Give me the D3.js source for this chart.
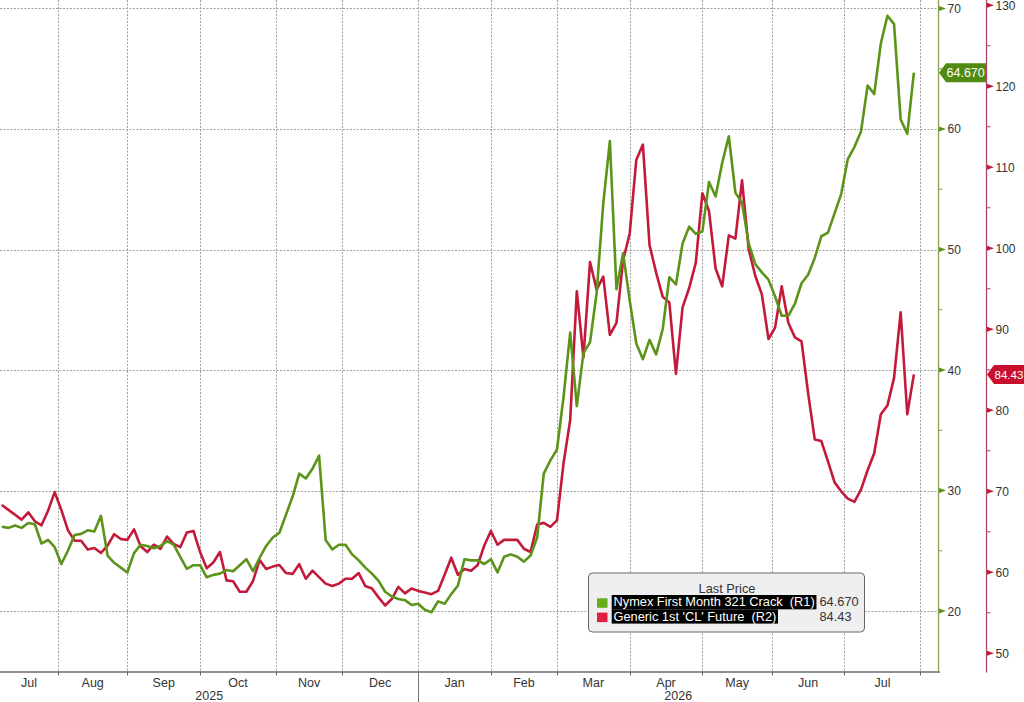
<!DOCTYPE html>
<html>
<head>
<meta charset="utf-8">
<script src="https://cdn.jsdelivr.net/npm/d3@7/dist/d3.min.js"></script>
<style>
    html, body { margin: 0; padding: 0; background: #fff; }
    svg { display: block; font-family: "Liberation Sans", Arial, sans-serif; }
</style>
</head>
<body>
<div id="chart"></div>
<script>
// trading-day axis: weekdays from firstDay, series sampled every 2nd session
var firstDay = '2025-07-08';
var lastDay = '2026-08-31';
var sampleStart = 1;
var sampleStep = 2;

// Nymex First Month 321 Crack (R1)
var crack = [
    27.0, 26.9, 27.1, 26.9, 27.3, 27.2, 25.6, 25.9, 25.3, 23.9,
    25.0, 26.3, 26.4, 26.7, 26.6, 27.9, 24.6, 24.0, 23.6, 23.2,
    24.8, 25.5, 25.4, 25.2, 25.4, 25.8, 25.5, 24.5, 23.5, 23.8,
    23.8, 22.8, 23.0, 23.1, 23.4, 23.3, 23.8, 24.3, 23.3, 24.4,
    25.4, 26.1, 26.5, 28.0, 29.5, 31.4, 31.0, 31.8, 32.9, 25.9,
    25.1, 25.5, 25.5, 24.7, 24.2, 23.6, 23.1, 22.5, 21.6, 21.2,
    21.0, 20.9, 20.5, 20.6, 20.1, 19.9, 20.8, 20.6, 21.4, 22.1,
    24.3, 24.2, 24.2, 23.9, 24.3, 23.2, 24.5, 24.7, 24.5, 24.1,
    24.6, 26.1, 31.4, 32.5, 33.4, 37.8, 43.1, 37.0, 41.4, 42.3,
    46.4, 53.8, 59.0, 46.7, 49.7, 45.8, 42.2, 40.9, 42.5, 41.3,
    43.4, 47.7, 47.1, 50.5, 51.9, 51.3, 51.5, 55.6, 54.4, 57.2,
    59.4, 54.7, 53.9, 50.5, 48.8, 48.1, 47.5, 46.1, 44.5, 44.5,
    45.5, 47.2, 47.9, 49.3, 51.1, 51.4, 53.0, 54.6, 57.5, 58.5,
    59.8, 63.6, 62.9, 67.1, 69.4, 68.7, 60.8, 59.6, 64.67
];

// Generic 1st 'CL' Future (R2)
var wti = [
    68.3, 67.7, 67.1, 66.5, 67.4, 66.3, 65.8, 67.6, 69.9, 67.7,
    65.2, 63.9, 63.9, 62.8, 63.0, 62.4, 63.3, 64.7, 64.1, 64.0,
    65.3, 63.2, 62.5, 63.4, 62.9, 64.4, 63.5, 63.1, 64.9, 65.1,
    62.5, 60.5, 61.2, 62.5, 59.0, 58.9, 57.6, 57.6, 58.9, 61.5,
    60.4, 60.7, 60.9, 59.9, 59.8, 61.0, 59.2, 60.2, 59.4, 58.6,
    58.3, 58.6, 59.2, 59.2, 59.9, 58.3, 58.0, 56.9, 55.9, 56.7,
    58.2, 57.4, 58.0, 57.7, 57.5, 57.3, 57.7, 59.7, 61.8, 59.7,
    60.4, 60.2, 60.9, 63.3, 65.1, 63.4, 64.0, 64.0, 64.0, 62.9,
    62.5, 65.9, 66.1, 65.6, 66.4, 73.5, 78.8, 94.7, 86.5, 98.3,
    94.9, 96.5, 89.3, 90.8, 98.5, 101.8, 110.9, 112.8, 100.4, 97.0,
    94.0, 93.3, 84.5, 92.7, 95.1, 98.2, 106.8, 104.6, 97.5, 95.3,
    101.6, 101.2, 108.4, 99.9, 96.6, 94.3, 88.8, 90.2, 95.3, 90.8,
    89.0, 88.5, 82.1, 76.4, 76.2, 73.7, 71.1, 70.0, 69.1, 68.7,
    70.2, 72.6, 74.7, 79.5, 80.6, 84.0, 92.1, 79.5, 84.43
];

var crackTicks = [20, 30, 40, 50, 60, 70];
var crackMinor = [25, 35, 45, 55, 65];
var wtiTicks = [50, 60, 70, 80, 90, 100, 110, 120, 130];
var wtiMinor = [55, 65, 75, 85, 95, 105, 115, 125];
var monthNames = ['Jan', 'Feb', 'Mar', 'Apr', 'May', 'Jun', 'Jul', 'Aug', 'Sep', 'Oct', 'Nov', 'Dec'];
var seriesNames = ['Nymex First Month 321 Crack  (R1)', "Generic 1st 'CL' Future  (R2)"];
var lastLabels = ['64.670', '84.43'];
var legendTitle = 'Last Price';

var width = 1024, height = 702;
var plotRight = 938, plotBottom = 671.5;
var axis2X = 986;
var green = '#5b9419', red = '#c31a3b';
var greenAxis = '#8c9f55', redAxis = '#b04262';

var svg = d3.select('#chart').append('svg')
    .attr('width', width)
    .attr('height', height);

svg.append('rect').attr('width', width).attr('height', height).attr('fill', '#fff');

// calendar of weekdays
var parse = d3.timeParse('%Y-%m-%d');
var days = d3.timeDays(parse(firstDay), d3.timeDay.offset(parse(lastDay), 1))
    .filter(function(d) { return d.getDay() > 0 && d.getDay() < 6; });

var x = d3.scaleLinear().domain([0.45, 284.3]).range([0, plotRight]);
var yCrack = d3.scaleLinear().domain([14.98, 70.705]).range([plotBottom, 0]);
var yWti = d3.scaleLinear().domain([47.75, 130.65]).range([plotBottom, 0]);

// month boundaries
var monthStarts = [];
for (var i = 1; i < days.length; i++) {
    if (days[i].getMonth() !== days[i - 1].getMonth()) {
        monthStarts.push({ idx: i, date: days[i] });
    }
}

var defs = svg.append('defs');
defs.append('clipPath').attr('id', 'plot-clip')
    .append('rect').attr('x', 0).attr('y', 0).attr('width', plotRight).attr('height', plotBottom);

// gridlines
var grid = svg.append('g').attr('class', 'grid')
    .attr('stroke', '#a0a0a0')
    .attr('stroke-width', 1)
    .attr('stroke-dasharray', '2,1.5');

grid.selectAll('line.h').data(crackTicks).enter()
    .append('line')
    .attr('class', 'h')
    .attr('x1', 0)
    .attr('x2', plotRight)
    .attr('y1', function(d) { return Math.round(yCrack(d)) + 0.5; })
    .attr('y2', function(d) { return Math.round(yCrack(d)) + 0.5; });

var visibleStarts = monthStarts.filter(function(m) {
    return x(m.idx) > 0 && x(m.idx) < plotRight;
});

grid.selectAll('line.v').data(visibleStarts).enter()
    .append('line')
    .attr('class', 'v')
    .attr('x1', function(m) { return Math.round(x(m.idx)) + 0.5; })
    .attr('x2', function(m) { return Math.round(x(m.idx)) + 0.5; })
    .attr('y1', 0)
    .attr('y2', plotBottom);

// series lines
var crackPts = crack.map(function(v, k) { return [sampleStart + k * sampleStep, v]; });
var wtiPts = wti.map(function(v, k) { return [sampleStart + k * sampleStep, v]; });

var lines = svg.append('g').attr('clip-path', 'url(#plot-clip)');

lines.append('path')
    .datum(wtiPts)
    .attr('fill', 'none')
    .attr('stroke', red)
    .attr('stroke-width', 2.6)
    .attr('stroke-linejoin', 'round')
    .attr('d', d3.line()
        .x(function(p) { return x(p[0]); })
        .y(function(p) { return yWti(p[1]); }));

lines.append('path')
    .datum(crackPts)
    .attr('fill', 'none')
    .attr('stroke', green)
    .attr('stroke-width', 2.6)
    .attr('stroke-linejoin', 'round')
    .attr('d', d3.line()
        .x(function(p) { return x(p[0]); })
        .y(function(p) { return yCrack(p[1]); }));

// x axis
svg.append('line')
    .attr('x1', 0).attr('x2', plotRight + 2)
    .attr('y1', plotBottom + 0.5).attr('y2', plotBottom + 0.5)
    .attr('stroke', '#222').attr('stroke-width', 1.2);

svg.selectAll('line.mtick').data(visibleStarts).enter()
    .append('line')
    .attr('class', 'mtick')
    .attr('x1', function(m) { return Math.round(x(m.idx)) + 0.5; })
    .attr('x2', function(m) { return Math.round(x(m.idx)) + 0.5; })
    .attr('y1', plotBottom)
    .attr('y2', plotBottom + 4)
    .attr('stroke', '#666');

var spans = [{ start: 0, date: days[0] }].concat(monthStarts.map(function(m) {
    return { start: m.idx, date: m.date };
}));
var monthSpans = [];
for (var j = 0; j < spans.length - 1; j++) {
    var a = Math.max(0, x(spans[j].start));
    var b = Math.min(plotRight, x(spans[j + 1].start));
    if (b - a > 30) {
        monthSpans.push({ mid: (a + b) / 2, date: spans[j].date });
    }
}

svg.selectAll('text.month').data(monthSpans).enter()
    .append('text')
    .attr('class', 'month')
    .attr('x', function(m) { return m.mid; })
    .attr('y', 687)
    .attr('text-anchor', 'middle')
    .attr('font-size', 12.5)
    .attr('fill', '#333')
    .text(function(m) { return monthNames[m.date.getMonth()]; });

// year separator and labels
var yearStart = monthStarts.filter(function(m) { return m.date.getMonth() === 0; })[0];
var yearX = Math.round(x(yearStart.idx)) + 0.5;
svg.append('line')
    .attr('x1', yearX).attr('x2', yearX)
    .attr('y1', plotBottom).attr('y2', height)
    .attr('stroke', '#777');

var years = [
    { label: String(yearStart.date.getFullYear() - 1), mid: yearX / 2 },
    { label: String(yearStart.date.getFullYear()), mid: (yearX + plotRight) / 2 }
];
svg.selectAll('text.year').data(years).enter()
    .append('text')
    .attr('class', 'year')
    .attr('x', function(d) { return d.mid; })
    .attr('y', 700)
    .attr('text-anchor', 'middle')
    .attr('font-size', 12.5)
    .attr('fill', '#333')
    .text(function(d) { return d.label; });

// right axes
var drawAxis = function(ax, scale, ticks, minor, lineColor, tickColor) {
    var g = svg.append('g');
    g.append('line')
        .attr('x1', ax + 0.5).attr('x2', ax + 0.5)
        .attr('y1', 0).attr('y2', plotBottom + 1)
        .attr('stroke', lineColor).attr('stroke-width', 1.3);
    g.selectAll('path.tri').data(ticks).enter()
        .append('path')
        .attr('class', 'tri')
        .attr('fill', tickColor)
        .attr('d', function(t) {
            var ty = scale(t);
            return 'M' + (ax + 1) + ',' + (ty - 2.6) + 'L' + (ax + 8) + ',' + ty + 'L' + (ax + 1) + ',' + (ty + 2.6) + 'Z';
        });
    g.selectAll('line.minor').data(minor).enter()
        .append('line')
        .attr('class', 'minor')
        .attr('x1', ax + 1).attr('x2', ax + 4.5)
        .attr('y1', function(t) { return scale(t); })
        .attr('y2', function(t) { return scale(t); })
        .attr('stroke', lineColor);
    g.selectAll('text').data(ticks).enter()
        .append('text')
        .attr('x', ax + 9.5)
        .attr('y', function(t) { return scale(t) + 4.5; })
        .attr('font-size', 12)
        .attr('fill', '#333')
        .text(function(t) { return t; });
};

drawAxis(plotRight, yCrack, crackTicks, crackMinor, greenAxis, green);
drawAxis(axis2X, yWti, wtiTicks, wtiMinor, redAxis, red);

// last price tags
var tag = function(ax, yv, w, fill, label, size) {
    var h = 19;
    svg.append('path')
        .attr('fill', fill)
        .attr('d', 'M' + (ax + 1) + ',' + yv +
            'L' + (ax + 8) + ',' + (yv - h / 2) +
            'L' + (ax + w) + ',' + (yv - h / 2) +
            'L' + (ax + w) + ',' + (yv + h / 2) +
            'L' + (ax + 8) + ',' + (yv + h / 2) + 'Z');
    svg.append('text')
        .attr('x', ax + 8.5)
        .attr('y', yv + 4.5)
        .attr('font-size', size)
        .attr('fill', '#fff')
        .text(label);
};

tag(plotRight, yCrack(crack[crack.length - 1]), axis2X - plotRight, '#4f8a12', lastLabels[0], 12.5);
tag(axis2X, yWti(wti[wti.length - 1]), 60, '#c8102e', lastLabels[1], 11.5);

// legend
var legend = svg.append('g').attr('transform', 'translate(588.5,573)');
legend.append('rect')
    .attr('width', 276)
    .attr('height', 59)
    .attr('rx', 4)
    .attr('fill', '#efefef')
    .attr('stroke', '#666');

legend.append('text')
    .attr('x', 138.5)
    .attr('y', 20)
    .attr('text-anchor', 'middle')
    .attr('font-size', 12.8)
    .attr('fill', '#333')
    .text(legendTitle);

var swatch = ['#66ad1c', '#e0203e'];
seriesNames.forEach(function(name, i) {
    var rowTop = 22 + i * 14.3;
    var row = legend.append('g');
    row.append('rect')
        .attr('x', 8.5).attr('y', rowTop + 3.3)
        .attr('width', 10.5).attr('height', 9.5)
        .attr('fill', swatch[i]);
    var bg = row.append('rect')
        .attr('x', 23.2).attr('y', rowTop)
        .attr('height', 14.3)
        .attr('fill', '#000');
    var t = row.append('text')
        .attr('x', 25)
        .attr('y', rowTop + 11.2)
        .attr('font-size', 12.8)
        .attr('fill', '#fff')
        .attr('xml:space', 'preserve')
        .style('white-space', 'pre')
        .text(name);
    bg.attr('width', t.node().getComputedTextLength() + 3.5);
    row.append('text')
        .attr('x', 231)
        .attr('y', rowTop + 11.2)
        .attr('font-size', 12.8)
        .attr('fill', '#333')
        .text(lastLabels[i]);
});
</script>
</body>
</html>
